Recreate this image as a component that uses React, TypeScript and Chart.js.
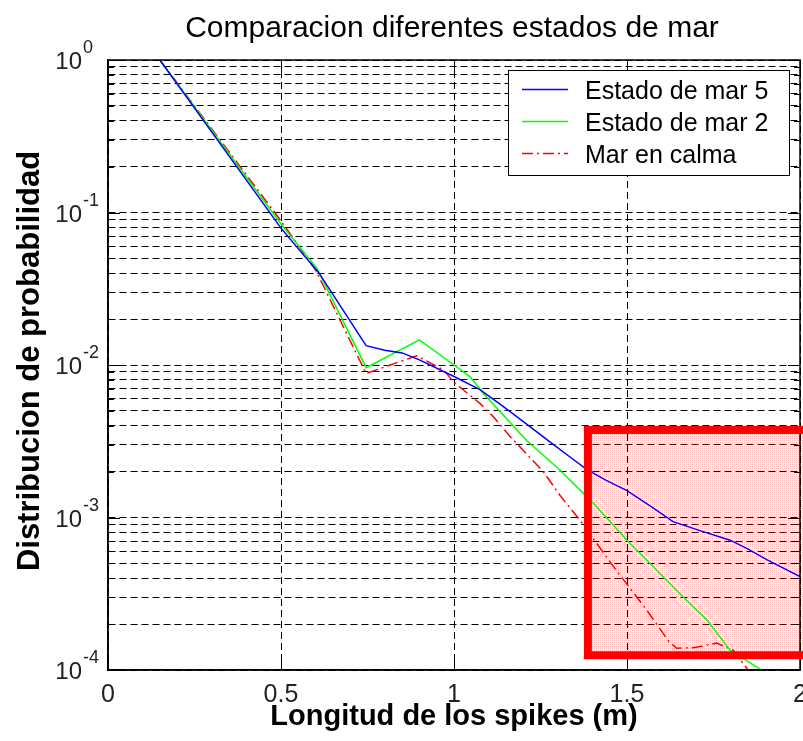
import React, { useEffect, useRef } from "react";
import { Chart, registerables } from "chart.js";

Chart.register(...registerables);

// ---- text ----
const chartTitle = "Comparacion diferentes estados de mar";
const xAxisTitle = "Longitud de los spikes (m)";
const yAxisTitle = "Distribucion de probabilidad";
const seriesNames = ["Estado de mar 5", "Estado de mar 2", "Mar en calma"];

// ---- axes ----
const xTickValues = [0, 0.5, 1, 1.5, 2];
const xTickLabels = ["0", "0.5", "1", "1.5", "2"];
const yDecadeValues = [1e-4, 1e-3, 1e-2, 1e-1, 1];
const yDecadeExponents = ["-4", "-3", "-2", "-1", "0"];
const yMinorFactors = [2, 3, 4, 5, 6, 7, 8, 9];

// ---- series: Estado de mar 5 ----
const estado5X = [0.15, 0.5, 0.61, 0.746, 0.8, 0.85, 0.9, 1.0, 1.075, 1.14, 1.21, 1.28, 1.345, 1.383, 1.44, 1.5, 1.57, 1.633, 1.711, 1.798, 1.85, 1.904, 2.0];
const estado5Y = [1.0, 0.079, 0.04, 0.0134, 0.0125, 0.012, 0.0108, 0.0084, 0.0069, 0.0054, 0.0041, 0.0031, 0.0024, 0.00207, 0.00175, 0.0015, 0.00118, 0.00094, 0.00082, 0.00071, 0.00062, 0.00053, 0.00041];

// ---- series: Estado de mar 2 ----
const estado2X = [0.15, 0.5, 0.604, 0.746, 0.9, 1.0, 1.046, 1.085, 1.21, 1.306, 1.374, 1.403, 1.5, 1.663, 1.73, 1.798, 1.889, 1.95];
const estado2Y = [1.0, 0.084, 0.043, 0.0096, 0.0146, 0.01, 0.0084, 0.0065, 0.0032, 0.00205, 0.00144, 0.00124, 0.00071, 0.0003, 0.000214, 0.000135, 0.0001, 0.00007];

// ---- series: Mar en calma ----
const calmaX = [0.15, 0.5, 0.6, 0.746, 0.892, 0.969, 1.003, 1.075, 1.113, 1.162, 1.258, 1.306, 1.364, 1.46, 1.557, 1.62, 1.643, 1.692, 1.759, 1.807, 1.85, 1.9];
const calmaY = [1.0, 0.088, 0.042, 0.0088, 0.0115, 0.0093, 0.0076, 0.0056, 0.0046, 0.0034, 0.002, 0.0014, 0.00096, 0.00048, 0.000247, 0.000155, 0.000139, 0.00014, 0.00015, 0.000135, 0.0001, 0.00007];

// ---- highlighted tail region (data coordinates) ----
const highlightX = [1.387, 2.03];
const highlightY = [1.25e-4, 3.75e-3];

const seriesColors = ["#0000ff", "#00ff00", "#ff0000"];
const seriesDashes: number[][] = [[], [], [11, 4, 2, 4]];

const FONT = "'Liberation Sans', Arial, Helvetica, sans-serif";

const toPoints = (xs: number[], ys: number[]) => xs.map((x, i) => ({ x, y: ys[i] }));

function makeStipple(): CanvasPattern | string {
  const tile = document.createElement("canvas");
  tile.width = 2;
  tile.height = 2;
  const t = tile.getContext("2d");
  if (!t) return "rgba(255,0,0,0.1)";
  t.fillStyle = "rgba(255,0,0,0.03)";
  t.fillRect(0, 0, 2, 2);
  t.fillStyle = "rgba(255,60,60,0.32)";
  t.fillRect(0, 0, 1, 1);
  const ctx = document.createElement("canvas").getContext("2d");
  return (ctx && ctx.createPattern(tile, "repeat")) || "rgba(255,0,0,0.1)";
}

const decorations = {
  id: "decorations",
  beforeDatasetsDraw(chart: any) {
    const { ctx, scales } = chart;
    const x = scales.x, y = scales.y;
    const l = x.getPixelForValue(highlightX[0]);
    const r = x.getPixelForValue(highlightX[1]);
    const t = y.getPixelForValue(highlightY[1]);
    const b = y.getPixelForValue(highlightY[0]);
    ctx.save();
    ctx.fillStyle = makeStipple();
    ctx.fillRect(l, t, r - l, b - t);
    ctx.restore();
  },
  afterDatasetsDraw(chart: any) {
    const { ctx, chartArea: a, scales } = chart;
    const x = scales.x, y = scales.y;
    ctx.save();
    // axes box
    ctx.strokeStyle = "#000";
    ctx.lineWidth = 1.5;
    ctx.setLineDash([]);
    ctx.strokeRect(a.left, a.top, a.right - a.left, a.bottom - a.top);
    // inward tick marks
    ctx.lineWidth = 1;
    ctx.beginPath();
    for (const v of xTickValues) {
      const px = Math.round(x.getPixelForValue(v)) + 0.5;
      ctx.moveTo(px, a.bottom);
      ctx.lineTo(px, a.bottom - 12);
      ctx.moveTo(px, a.top);
      ctx.lineTo(px, a.top + 12);
    }
    for (const d of yDecadeValues) {
      const py = Math.round(y.getPixelForValue(d)) + 0.5;
      ctx.moveTo(a.left, py);
      ctx.lineTo(a.left + 12, py);
      ctx.moveTo(a.right, py);
      ctx.lineTo(a.right - 12, py);
      if (d < 1) {
        for (const f of yMinorFactors) {
          const pm = Math.round(y.getPixelForValue(d * f)) + 0.5;
          ctx.moveTo(a.left, pm);
          ctx.lineTo(a.left + 6, pm);
          ctx.moveTo(a.right, pm);
          ctx.lineTo(a.right - 6, pm);
        }
      }
    }
    ctx.stroke();
    // highlight frame
    const l = x.getPixelForValue(highlightX[0]);
    const r = x.getPixelForValue(highlightX[1]);
    const t = y.getPixelForValue(highlightY[1]);
    const b = y.getPixelForValue(highlightY[0]);
    ctx.strokeStyle = "#ff0000";
    ctx.lineWidth = 8;
    ctx.strokeRect(l, t, r - l, b - t);
    ctx.restore();
  },
  afterDraw(chart: any) {
    const { ctx, chartArea: a, scales } = chart;
    const x = scales.x, y = scales.y;
    ctx.save();
    ctx.fillStyle = "#000";
    // title
    ctx.font = `30px ${FONT}`;
    ctx.textAlign = "center";
    ctx.textBaseline = "alphabetic";
    ctx.fillText(chartTitle, (a.left + a.right) / 2 - 2, 37);
    // x tick labels
    ctx.fillStyle = "#222";
    ctx.font = `25px ${FONT}`;
    xTickValues.forEach((v, i) => {
      ctx.fillText(xTickLabels[i], x.getPixelForValue(v), 702);
    });
    // y tick labels (10 with superscript exponent)
    yDecadeValues.forEach((v, i) => {
      const py = y.getPixelForValue(v);
      ctx.font = `24px ${FONT}`;
      ctx.textAlign = "right";
      ctx.fillText("10", 82, py + 9);
      ctx.font = `18px ${FONT}`;
      ctx.textAlign = "left";
      ctx.fillText(yDecadeExponents[i], 83, py - 7);
    });
    // axis titles
    ctx.fillStyle = "#000";
    ctx.font = `bold 29px ${FONT}`;
    ctx.textAlign = "center";
    ctx.fillText(xAxisTitle, (a.left + a.right) / 2, 725);
    ctx.save();
    ctx.translate(39, 361);
    ctx.rotate(-Math.PI / 2);
    ctx.font = `bold 31px ${FONT}`;
    ctx.fillText(yAxisTitle, 0, 0);
    ctx.restore();
    // legend
    const lx = 508.5, ly = 70.5, lw = 281, lh = 105;
    ctx.fillStyle = "#fff";
    ctx.fillRect(lx, ly, lw, lh);
    ctx.strokeStyle = "#000";
    ctx.lineWidth = 1;
    ctx.strokeRect(lx, ly, lw, lh);
    chart.data.datasets.forEach((ds: any, i: number) => {
      const rowY = 89.5 + i * 32;
      ctx.strokeStyle = ds.borderColor;
      ctx.lineWidth = 1.5;
      ctx.setLineDash(ds.borderDash || []);
      ctx.beginPath();
      ctx.moveTo(522, rowY);
      ctx.lineTo(568, rowY);
      ctx.stroke();
      ctx.setLineDash([]);
      ctx.fillStyle = "#000";
      ctx.font = `25px ${FONT}`;
      ctx.textAlign = "left";
      ctx.fillText(ds.label, 585, rowY + 9);
    });
    ctx.restore();
  },
};

export default function App() {
  const canvasRef = useRef<HTMLCanvasElement | null>(null);

  useEffect(() => {
    if (!canvasRef.current) return;
    const series = [
      toPoints(estado5X, estado5Y),
      toPoints(estado2X, estado2Y),
      toPoints(calmaX, calmaY),
    ];
    const chart = new Chart(canvasRef.current, {
      type: "line",
      data: {
        datasets: series.map((pts, i) => ({
          label: seriesNames[i],
          data: pts,
          borderColor: seriesColors[i],
          backgroundColor: seriesColors[i],
          borderWidth: 1.5,
          borderDash: seriesDashes[i],
          pointRadius: 0,
          tension: 0,
          fill: false,
        })),
      },
      options: {
        animation: false,
        responsive: false,
        maintainAspectRatio: false,
        layout: { padding: { left: 108, top: 60, right: 3, bottom: 71 } },
        plugins: {
          legend: { display: false },
          title: { display: false },
          tooltip: { enabled: false },
        },
        scales: {
          x: {
            type: "linear",
            min: 0,
            max: 2,
            afterBuildTicks: (s: any) => {
              s.ticks = xTickValues.map((v) => ({ value: v }));
            },
            ticks: { display: false },
            grid: { drawTicks: false, color: "#000", lineWidth: 1 },
            border: { display: true, color: "#000", width: 1.5, dash: [7, 4] },
          },
          y: {
            type: "logarithmic",
            min: 1e-4,
            max: 1,
            afterBuildTicks: (s: any) => {
              const ticks: { value: number; major: boolean }[] = [];
              yDecadeValues.forEach((d) => {
                ticks.push({ value: d, major: true });
                if (d < 1) yMinorFactors.forEach((f) => ticks.push({ value: d * f, major: false }));
              });
              s.ticks = ticks;
            },
            ticks: { display: false },
            grid: { drawTicks: false, color: "#000", lineWidth: 1 },
            border: { display: true, color: "#000", width: 1.5, dash: [7, 4] },
          },
        },
      },
      plugins: [decorations],
    } as any);
    return () => chart.destroy();
  }, []);

  return (
    <div style={{ position: "absolute", left: 0, top: 0, width: 803, height: 741, background: "#fff" }}>
      <canvas ref={canvasRef} width={803} height={741} style={{ display: "block" }} />
    </div>
  );
}
